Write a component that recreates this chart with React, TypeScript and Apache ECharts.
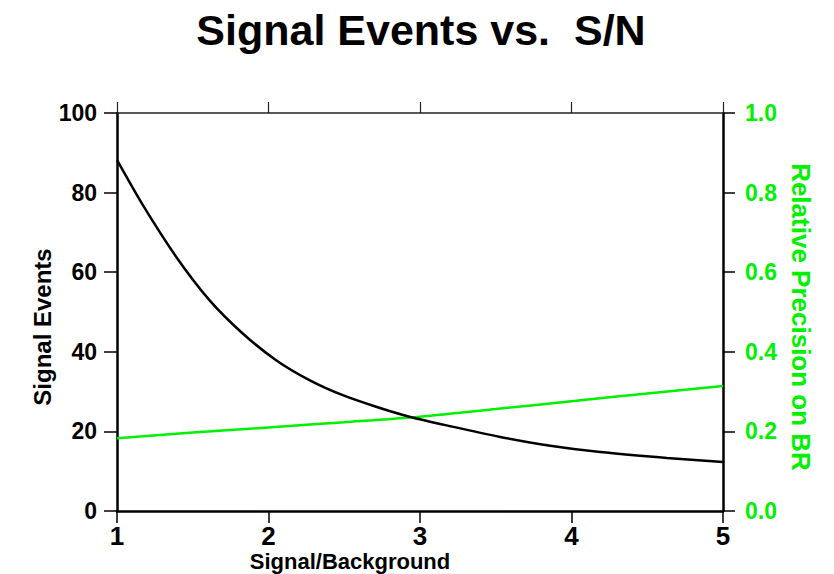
import React, { useEffect, useRef } from "react";
import * as echarts from "echarts";

const titleText = "Signal Events vs.  S/N";
const xAxisName = "Signal/Background";
const leftAxisName = "Signal Events";
const rightAxisName = "Relative Precision on BR";

const xTicks = [1, 2, 3, 4, 5];
const leftTicks = [0, 20, 40, 60, 80, 100];
const rightTicks = ["0.0", "0.2", "0.4", "0.6", "0.8", "1.0"];

// Black curve: signal events vs S/B
const eventsX = [1, 1.17, 1.39, 1.61, 1.83, 2.05, 2.27, 2.49, 2.71, 2.93, 3.2, 3.53, 3.86, 4.19, 4.63, 5];
const eventsY = [88.2, 76.9, 63.9, 53.0, 44.6, 37.9, 32.9, 29.1, 26.2, 23.7, 21.3, 18.6, 16.4, 14.8, 13.3, 12.3];

// Green curve: relative precision on BR vs S/B
const precisionX = [1, 1.5, 2, 2.5, 3, 3.5, 4, 4.5, 5];
const precisionY = [0.183, 0.197, 0.21, 0.223, 0.237, 0.256, 0.276, 0.295, 0.314];

const GREEN = "#00f000";
const BLACK = "#000000";
const LABEL_FONT = "'Liberation Sans', Arial, sans-serif";

export default function App() {
  const ref = useRef<HTMLDivElement>(null);

  useEffect(() => {
    if (!ref.current) return;
    const chart = echarts.init(ref.current, undefined, { renderer: "svg" });

    const axisLine = (color: string, width: number) => ({
      show: true,
      onZero: false,
      lineStyle: { color, width },
    });

    chart.setOption({
      animation: false,
      backgroundColor: "#ffffff",
      grid: { left: 117, right: 111, top: 113, bottom: 63, containLabel: false },
      graphic: [
        {
          type: "text",
          x: 421,
          y: 30,
          style: {
            text: titleText,
            font: `bold 43px ${LABEL_FONT}`,
            fill: BLACK,
            align: "center",
            verticalAlign: "middle",
          },
        },
        {
          type: "text",
          x: 350,
          y: 561,
          style: {
            text: xAxisName,
            font: `bold 22px ${LABEL_FONT}`,
            fill: BLACK,
            align: "center",
            verticalAlign: "middle",
          },
        },
        {
          type: "text",
          x: 42,
          y: 327,
          rotation: Math.PI / 2,
          style: {
            text: leftAxisName,
            font: `bold 24px ${LABEL_FONT}`,
            fill: BLACK,
            align: "center",
            verticalAlign: "middle",
          },
        },
        {
          type: "text",
          x: 801,
          y: 317,
          rotation: -Math.PI / 2,
          style: {
            text: rightAxisName,
            font: `bold 26px ${LABEL_FONT}`,
            fill: GREEN,
            align: "center",
            verticalAlign: "middle",
          },
        },
      ],
      xAxis: [
        {
          type: "value",
          position: "bottom",
          min: xTicks[0],
          max: xTicks[xTicks.length - 1],
          interval: 1,
          axisLine: axisLine(BLACK, 2.5),
          axisTick: { show: true, inside: false, length: 12, lineStyle: { color: BLACK, width: 1.5 } },
          axisLabel: {
            show: true,
            margin: 12,
            color: BLACK,
            fontSize: 26,
            fontWeight: "bold",
            fontFamily: LABEL_FONT,
            formatter: (v: number) => String(v),
          },
          splitLine: { show: false },
        },
        {
          type: "value",
          position: "top",
          min: xTicks[0],
          max: xTicks[xTicks.length - 1],
          interval: 1,
          axisLine: axisLine("#222222", 1.5),
          axisTick: { show: true, inside: false, length: 11, lineStyle: { color: "#222222", width: 1.2 } },
          axisLabel: { show: false },
          splitLine: { show: false },
        },
      ],
      yAxis: [
        {
          type: "value",
          position: "left",
          min: leftTicks[0],
          max: leftTicks[leftTicks.length - 1],
          interval: 20,
          axisLine: axisLine(BLACK, 2.5),
          axisTick: { show: true, inside: false, length: 13, lineStyle: { color: BLACK, width: 1.5 } },
          axisLabel: {
            show: true,
            margin: 20,
            color: BLACK,
            fontSize: 23,
            fontWeight: "bold",
            fontFamily: LABEL_FONT,
          },
          splitLine: { show: false },
        },
        {
          type: "value",
          position: "right",
          min: 0,
          max: 1,
          interval: 0.2,
          axisLine: axisLine(BLACK, 2.5),
          axisTick: { show: true, inside: false, length: 12, lineStyle: { color: BLACK, width: 1.5 } },
          axisLabel: {
            show: true,
            margin: 22,
            color: GREEN,
            fontSize: 23,
            fontWeight: "bold",
            fontFamily: LABEL_FONT,
            formatter: (v: number) => rightTicks[Math.round(v / 0.2)] ?? v.toFixed(1),
          },
          splitLine: { show: false },
        },
      ],
      series: [
        {
          type: "line",
          name: leftAxisName,
          xAxisIndex: 0,
          yAxisIndex: 0,
          data: eventsX.map((x, i) => [x, eventsY[i]]),
          smooth: 0.3,
          showSymbol: false,
          lineStyle: { color: BLACK, width: 2.5 },
          z: 3,
        },
        {
          type: "line",
          name: rightAxisName,
          xAxisIndex: 0,
          yAxisIndex: 1,
          data: precisionX.map((x, i) => [x, precisionY[i]]),
          smooth: 0.3,
          showSymbol: false,
          lineStyle: { color: GREEN, width: 2.5 },
          z: 2,
        },
      ],
    });

    return () => chart.dispose();
  }, []);

  return (
    <div
      ref={ref}
      style={{ position: "fixed", left: 0, top: 0, width: 834, height: 574, background: "#fff" }}
    />
  );
}
